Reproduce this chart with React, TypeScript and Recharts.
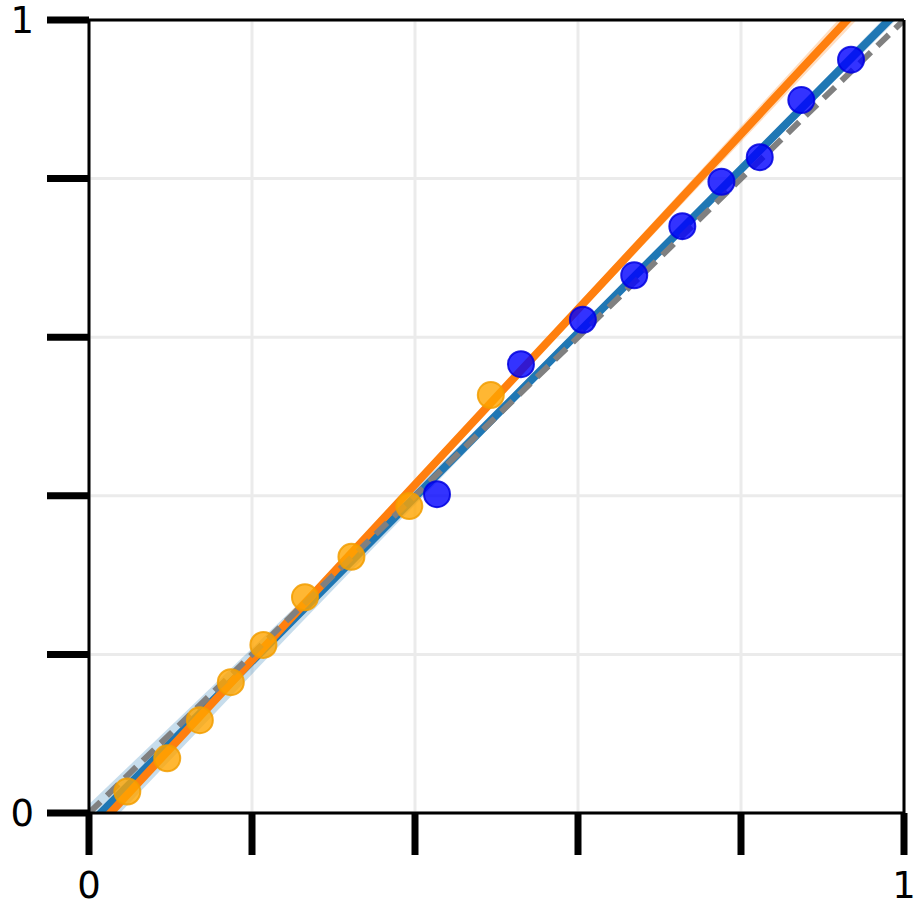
import {
  Area,
  CartesianGrid,
  ComposedChart,
  Line,
  ReferenceLine,
  Scatter,
  XAxis,
  YAxis,
} from "recharts";

// fitted lines, read at a few x positions
const xGrid = [0, 0.25, 0.5, 0.75, 1];
const diagonal = [0, 0.25, 0.5, 0.75, 1];
const blueFit = [-0.015, 0.243, 0.502, 0.76, 1.019];
const blueBand = [0.026, 0.014, 0.007, 0.005, 0.009];
const orangeFit = [-0.029, 0.248, 0.525, 0.801, 1.077];
const orangeBand = [0.006, 0.004, 0.005, 0.009, 0.014];

// scatter points
const orangeX = [0.047, 0.096, 0.136, 0.174, 0.214, 0.265, 0.322, 0.393, 0.493];
const orangeY = [0.027, 0.069, 0.117, 0.165, 0.212, 0.272, 0.323, 0.387, 0.527];
const blueX = [0.427, 0.53, 0.606, 0.669, 0.728, 0.776, 0.823, 0.874, 0.935];
const blueY = [0.402, 0.566, 0.622, 0.678, 0.74, 0.796, 0.827, 0.899, 0.95];

const ticks = [0, 0.2, 0.4, 0.6, 0.8, 1];

const rows = xGrid.map((x, i) => ({
  x,
  diag: diagonal[i],
  blue: blueFit[i],
  blueRange: [blueFit[i] - blueBand[i], blueFit[i] + blueBand[i]],
  orange: orangeFit[i],
  orangeRange: [orangeFit[i] - orangeBand[i], orangeFit[i] + orangeBand[i]],
}));
const orangePts = orangeX.map((x, i) => ({ x, y: orangeY[i] }));
const bluePts = blueX.map((x, i) => ({ x, y: blueY[i] }));

const tickStyle = { fontSize: 37, fill: "#000", fontFamily: "DejaVu Sans" };
const label = (v: number) => (v === 0 || v === 1 ? String(v) : "");

const dot = (fill: string, stroke: string) => (p: any) => (
  <circle
    cx={p.cx}
    cy={p.cy}
    r={13}
    fill={fill}
    fillOpacity={0.8}
    stroke={stroke}
    strokeOpacity={0.85}
    strokeWidth={2}
  />
);

export default function App() {
  return (
    <div style={{ position: "absolute", left: 0, top: 0, background: "#fff" }}>
      <ComposedChart
        width={921}
        height={916}
        data={rows}
        margin={{ top: 20, right: 17, left: 0, bottom: 0 }}
      >
        <CartesianGrid stroke="#ebebeb" strokeWidth={3} />
        <XAxis
          dataKey="x"
          type="number"
          domain={[0, 1]}
          ticks={ticks}
          allowDataOverflow
          height={103}
          tickSize={42}
          tickMargin={17}
          tickFormatter={label}
          tick={tickStyle}
          tickLine={{ stroke: "#000", strokeWidth: 7 }}
          axisLine={{ stroke: "#000", strokeWidth: 3 }}
          interval={0}
        />
        <YAxis
          type="number"
          domain={[0, 1]}
          ticks={ticks}
          allowDataOverflow
          width={89}
          tickSize={42}
          tickMargin={13}
          tickFormatter={label}
          tick={tickStyle}
          tickLine={{ stroke: "#000", strokeWidth: 7 }}
          axisLine={{ stroke: "#000", strokeWidth: 3 }}
          interval={0}
        />
        <Area
          dataKey="blueRange"
          type="linear"
          fill="#1f77b4"
          fillOpacity={0.25}
          stroke="none"
          isAnimationActive={false}
        />
        <Area
          dataKey="orangeRange"
          type="linear"
          fill="#ff7f0e"
          fillOpacity={0.25}
          stroke="none"
          isAnimationActive={false}
        />
        <Scatter
          data={orangePts}
          dataKey="y"
          shape={dot("#ffa500", "#f29d00")}
          isAnimationActive={false}
        />
        <Scatter
          data={bluePts}
          dataKey="y"
          shape={dot("#0000ff", "#0000e0")}
          isAnimationActive={false}
        />
        <Line
          dataKey="blue"
          type="linear"
          stroke="#1f77b4"
          strokeWidth={8}
          dot={false}
          activeDot={false}
          isAnimationActive={false}
        />
        <Line
          dataKey="orange"
          type="linear"
          stroke="#ff7f0e"
          strokeWidth={8}
          dot={false}
          activeDot={false}
          isAnimationActive={false}
        />
        <Line
          dataKey="diag"
          type="linear"
          stroke="#808080"
          strokeWidth={6}
          strokeDasharray="16 9"
          dot={false}
          activeDot={false}
          isAnimationActive={false}
        />
        <ReferenceLine x={1} stroke="#000" strokeWidth={3} />
        <ReferenceLine y={1} stroke="#000" strokeWidth={3} />
      </ComposedChart>
    </div>
  );
}
